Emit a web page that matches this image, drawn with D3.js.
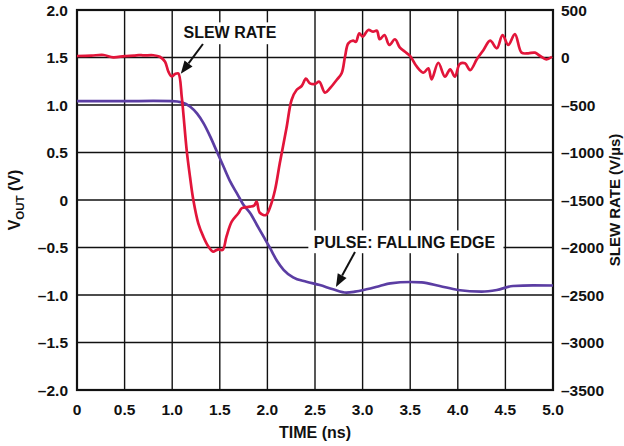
<!DOCTYPE html>
<html><head><meta charset="utf-8">
<script src="https://cdn.jsdelivr.net/npm/d3@7"></script>
<style>
html,body{margin:0;padding:0;background:#fff;}
text{font-family:"Liberation Sans",Arial,Helvetica,sans-serif;font-weight:bold;fill:#111;}
</style></head><body>
<svg id="c" width="624" height="446"></svg>
<script>
// Time axis (ns)
const xTicks = [0, 0.5, 1.0, 1.5, 2.0, 2.5, 3.0, 3.5, 4.0, 4.5, 5.0];
const xTickLabels = ["0","0.5","1.0","1.5","2.0","2.5","3.0","3.5","4.0","4.5","5.0"];
// Left axis VOUT (V)
const yTicks = [2.0, 1.5, 1.0, 0.5, 0, -0.5, -1.0, -1.5, -2.0];
const yTickLabels = ["2.0","1.5","1.0","0.5","0","–0.5","–1.0","–1.5","–2.0"];
// Right axis slew rate (V/us)
const y2Ticks = [500, 0, -500, -1000, -1500, -2000, -2500, -3000, -3500];
const y2TickLabels = ["500","0","–500","–1000","–1500","–2000","–2500","–3000","–3500"];

// Pulse: falling edge (VOUT vs time)
const pulseT = [0, 0.5, 0.8, 1.0, 1.1, 1.19, 1.26, 1.33, 1.4, 1.47, 1.54, 1.61, 1.68, 1.75, 1.82, 1.89, 1.96, 2.03, 2.1, 2.17, 2.27, 2.41, 2.55, 2.69, 2.83, 2.92, 3.04, 3.18, 3.29, 3.5, 3.62, 3.81, 4.0, 4.25, 4.41, 4.58, 4.79, 5.0];
const pulseV = [1.04, 1.04, 1.043, 1.04, 1.028, 0.982, 0.912, 0.807, 0.667, 0.508, 0.35, 0.193, 0.07, -0.053, -0.14, -0.263, -0.386, -0.51, -0.64, -0.735, -0.815, -0.86, -0.895, -0.94, -0.975, -0.965, -0.94, -0.905, -0.877, -0.863, -0.867, -0.905, -0.947, -0.965, -0.947, -0.905, -0.898, -0.9];

// Slew rate (V/us vs time)
const slewT = [0.0, 0.15, 0.28, 0.38, 0.5, 0.6, 0.65, 0.7, 0.8, 0.87, 0.925, 0.96, 0.995, 1.03, 1.064, 1.10, 1.117, 1.152, 1.187, 1.222, 1.274, 1.327, 1.38, 1.43, 1.46, 1.484, 1.53, 1.57, 1.625, 1.695, 1.73, 1.78, 1.817, 1.86, 1.887, 1.92, 1.985, 2.03, 2.08, 2.13, 2.2, 2.254, 2.306, 2.36, 2.405, 2.447, 2.5, 2.545, 2.605, 2.657, 2.727, 2.78, 2.815, 2.85, 2.9, 2.93, 2.965, 3.0, 3.06, 3.11, 3.15, 3.18, 3.23, 3.28, 3.34, 3.39, 3.445, 3.5, 3.57, 3.64, 3.69, 3.725, 3.795, 3.865, 3.92, 3.97, 4.02, 4.075, 4.13, 4.2, 4.27, 4.34, 4.41, 4.47, 4.53, 4.6, 4.67, 4.74, 4.81, 4.865, 4.93, 4.99];
const slewS = [16, 20, 26, 2, 15, 20, 26, 22, 24, 8, -44, -149, -200, -174, -168, -413, -587, -974, -1255, -1500, -1745, -1886, -1990, -2044, -2030, -2020, -2026, -1886, -1728, -1640, -1587, -1575, -1570, -1560, -1518, -1634, -1658, -1570, -1395, -1114, -745, -447, -342, -300, -223, -272, -279, -255, -370, -324, -237, -166, 8, 149, 177, 165, 255, 219, 290, 272, 282, 192, 237, 132, 192, 107, 61, 15, -97, -160, -114, -230, -55, -202, -124, -202, -68, -61, -132, -19, 79, 177, 97, 237, 132, 247, 51, 44, 51, 16, -19, 8];

const svg = d3.select("#c");
const m = {l:77, t:10, r:71, b:56};
const W = 624, H = 446;
const x = d3.scaleLinear().domain([0,5]).range([m.l, W-m.r]);
const y = d3.scaleLinear().domain([-2,2]).range([H-m.b, m.t]);
const y2 = d3.scaleLinear().domain([-3500,500]).range([H-m.b, m.t]);

// grid
const g = svg.append("g");
g.selectAll(".vx").data(xTicks).enter().append("line")
  .attr("x1",d=>x(d)).attr("x2",d=>x(d)).attr("y1",y(2)).attr("y2",y(-2))
  .attr("stroke","#111").attr("stroke-width",1.4);
g.selectAll(".hy").data(yTicks).enter().append("line")
  .attr("y1",d=>y(d)).attr("y2",d=>y(d)).attr("x1",x(0)).attr("x2",x(5))
  .attr("stroke","#111").attr("stroke-width",1.4);

// annotation boxes (white backgrounds)
const ann = svg.append("g");
ann.append("rect").attr("x",x(1.09)).attr("y",y(1.87)).attr("width",x(2.18)-x(1.09)).attr("height",y(1.64)-y(1.87)).attr("fill","#fff");
ann.append("rect").attr("x",x(2.43)).attr("y",y(-0.32)).attr("width",x(4.48)-x(2.43)).attr("height",y(-0.56)-y(-0.32)).attr("fill","#fff");

// frame
svg.append("rect").attr("x",x(0)).attr("y",y(2)).attr("width",x(5)-x(0)).attr("height",y(-2)-y(2))
  .attr("fill","none").attr("stroke","#111").attr("stroke-width",2.2);

// pulse line
const pulse = pulseT.map((t,i)=>[t,pulseV[i]]);
svg.append("path").datum(pulse)
  .attr("d", d3.line().x(d=>x(d[0])).y(d=>y(d[1])).curve(d3.curveMonotoneX))
  .attr("fill","none").attr("stroke","#5b3da3").attr("stroke-width",2.7);

// slew line
const slew = slewT.map((t,i)=>[t,slewS[i]]);
svg.append("path").datum(slew)
  .attr("d", d3.line().x(d=>x(d[0])).y(d=>y2(d[1])).curve(d3.curveCatmullRom.alpha(0.5)))
  .attr("fill","none").attr("stroke","#e2153a").attr("stroke-width",2.7).attr("stroke-linejoin","round");

// annotations text
ann.append("text").attr("x",x(1.607)).attr("y",y2(268)).attr("dy","0.36em").attr("text-anchor","middle")
  .attr("font-size",16).text("SLEW RATE");
ann.append("text").attr("x",x(3.44)).attr("y",y(-0.44)).attr("dy","0.36em").attr("text-anchor","middle")
  .attr("font-size",16).text("PULSE: FALLING EDGE");

function arrow(x1,y1,x2,y2p){
  const ang = Math.atan2(y2p-y1, x2-x1);
  const L = 13, Wd = 5;
  const bx = x2 - L*Math.cos(ang), by = y2p - L*Math.sin(ang);
  svg.append("line").attr("x1",x1).attr("y1",y1).attr("x2",bx).attr("y2",by).attr("stroke","#111").attr("stroke-width",2);
  const p = [[x2,y2p],[bx + Wd*Math.sin(ang), by - Wd*Math.cos(ang)],[bx - Wd*Math.sin(ang), by + Wd*Math.cos(ang)]];
  svg.append("path").attr("d","M"+p.map(q=>q.join(",")).join("L")+"Z").attr("fill","#111");
}
arrow(x(1.323), y2(142), x(1.09), y2(-172));
arrow(x(2.92), y(-0.547), x(2.72), y(-0.916));

// tick labels
svg.selectAll(".xl").data(xTicks).enter().append("text")
  .attr("x",d=>x(d)).attr("y",y(-2)+19).attr("dy","0.36em").attr("text-anchor","middle")
  .attr("font-size",15.5).text((d,i)=>xTickLabels[i]);
svg.selectAll(".yl").data(yTicks).enter().append("text")
  .attr("x",x(0)-9).attr("y",d=>y(d)).attr("dy","0.36em").attr("text-anchor","end")
  .attr("font-size",15.5).text((d,i)=>yTickLabels[i]);
svg.selectAll(".y2l").data(y2Ticks).enter().append("text")
  .attr("x",x(5)+8).attr("y",d=>y2(d)).attr("dy","0.36em").attr("text-anchor","start")
  .attr("font-size",15.5).text((d,i)=>y2TickLabels[i]);

// axis titles
svg.append("text").attr("x",(x(0)+x(5))/2).attr("y",438).attr("text-anchor","middle")
  .attr("font-size",16).text("TIME (ns)");
const lt = svg.append("text").attr("transform","translate(20,"+((y(2)+y(-2))/2)+") rotate(-90)")
  .attr("text-anchor","middle").attr("font-size",16);
lt.append("tspan").text("V");
lt.append("tspan").attr("font-size",11.5).attr("dy",4).text("OUT");
lt.append("tspan").attr("dy",-4).text(" (V)");
svg.append("text").attr("transform","translate(620,"+((y(2)+y(-2))/2)+") rotate(-90)")
  .attr("text-anchor","middle").attr("font-size",15).text("SLEW RATE (V/µs)");
</script>
</body></html>
